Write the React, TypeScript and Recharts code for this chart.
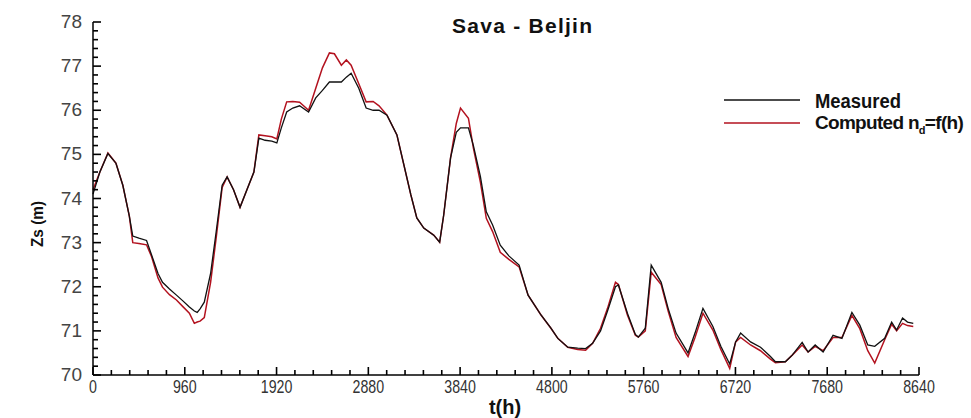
import React from 'react';
import { LineChart, Line, XAxis, YAxis } from 'recharts';

// time in hours
const hours = [
  0, 72, 156, 240, 312, 380, 416, 480, 560, 613, 680, 727, 800, 873, 940, 1008, 1060, 1090, 1120, 1164,
  1230, 1288, 1351, 1403, 1470, 1538, 1610, 1683, 1735, 1800, 1870, 1923, 1970, 2026, 2090, 2161, 2255, 2330, 2400, 2473,
  2525, 2598, 2650, 2700, 2780, 2857, 2930, 2992, 3075, 3179, 3252, 3325, 3387, 3460, 3564, 3626, 3668, 3740, 3800, 3844,
  3927, 3979, 4052, 4114, 4180, 4260, 4350, 4457, 4551, 4686, 4790, 4862, 4966, 5070, 5153, 5226, 5309, 5382, 5465, 5496,
  5590, 5673, 5704, 5777, 5839, 5943, 6016, 6099, 6224, 6297, 6380, 6484, 6567, 6660, 6722, 6774, 6878, 6982, 7086, 7138,
  7242, 7314, 7418, 7480, 7554, 7637, 7741, 7834, 7938, 8021, 8104, 8177, 8281, 8354, 8406, 8468, 8520, 8580,
];

// water level Zs (m)
const measured = [
  74.1, 74.6, 75.02, 74.8, 74.3, 73.6, 73.15, 73.1, 73.05, 72.72, 72.3, 72.1, 71.95, 71.81, 71.68, 71.54, 71.45, 71.42, 71.5, 71.65,
  72.3, 73.24, 74.3, 74.49, 74.2, 73.8, 74.2, 74.6, 75.37, 75.32, 75.3, 75.26, 75.6, 75.96, 76.05, 76.1, 75.96, 76.28, 76.45, 76.64,
  76.64, 76.64, 76.75, 76.84, 76.5, 76.05, 76.0, 76.0, 75.89, 75.44, 74.76, 74.08, 73.56, 73.33, 73.17, 73.01, 73.62, 74.92, 75.5, 75.6,
  75.6, 75.2, 74.5, 73.7, 73.4, 72.94, 72.7, 72.49, 71.81, 71.36, 71.06, 70.83, 70.63, 70.61, 70.6, 70.72, 71.0, 71.45, 72.0, 72.04,
  71.4, 70.92, 70.86, 71.06, 72.49, 72.1, 71.51, 70.95, 70.5, 70.95, 71.51, 71.1, 70.65, 70.25, 70.75, 70.95, 70.75, 70.63, 70.42, 70.3,
  70.3, 70.45, 70.74, 70.52, 70.68, 70.52, 70.9, 70.83, 71.42, 71.13, 70.68, 70.65, 70.83, 71.2, 71.02, 71.29, 71.2, 71.17,
];

const computed = [
  74.2, 74.6, 75.03, 74.8, 74.3, 73.6, 73.0, 72.98, 72.95, 72.68, 72.2, 71.99, 71.82, 71.7, 71.55, 71.4, 71.17, 71.2, 71.22, 71.3,
  72.1, 73.1, 74.25, 74.49, 74.2, 73.8, 74.2, 74.6, 75.44, 75.42, 75.4, 75.35, 75.8, 76.19, 76.2, 76.18, 76.0, 76.5, 76.96, 77.3,
  77.28, 77.02, 77.14, 77.02, 76.6, 76.19, 76.2, 76.1, 75.89, 75.44, 74.76, 74.08, 73.56, 73.33, 73.17, 73.01, 73.62, 74.92, 75.7, 76.05,
  75.82, 75.14, 74.37, 73.55, 73.25, 72.78, 72.62, 72.45, 71.81, 71.36, 71.06, 70.83, 70.63, 70.58, 70.56, 70.72, 71.06, 71.51, 72.1, 72.05,
  71.36, 70.9, 70.86, 71.0, 72.33, 72.05, 71.45, 70.85, 70.42, 70.85, 71.4, 71.02, 70.58, 70.15, 70.75, 70.85, 70.68, 70.55, 70.36, 70.28,
  70.3, 70.45, 70.68, 70.52, 70.65, 70.55, 70.85, 70.85, 71.35, 71.05, 70.55, 70.27, 70.8, 71.15, 71.0, 71.17, 71.12, 71.1,
];

const xMajorTicks = [0, 960, 1920, 2880, 3840, 4800, 5760, 6720, 7680, 8640];
const yMajorTicks = [70, 71, 72, 73, 74, 75, 76, 77, 78];
const X_MINOR_STEP = 192;
const Y_MINOR_STEP = 0.2;

const xAllTicks = Array.from({ length: 8640 / X_MINOR_STEP + 1 }, (_, i) => i * X_MINOR_STEP);
const yAllTicks = Array.from({ length: 41 }, (_, i) => +(70 + i * Y_MINOR_STEP).toFixed(1));

const data = hours.map((t, i) => ({ t, measured: measured[i], computed: computed[i] }));

const SANS = "'Liberation Sans', Arial, sans-serif";
const RED = '#b3121f';

// chart layout (shared by the chart margins and the inward tick-mark overlay)
const W = 971;
const H = 418;
const M_TOP = 22;
const M_RIGHT = 52;
const Y_AXIS_W = 93;
const X_AXIS_H = 43;
const PLOT_L = Y_AXIS_W;
const PLOT_R = W - M_RIGHT;
const PLOT_T = M_TOP;
const PLOT_B = H - X_AXIS_H;
const sx = (t: number) => PLOT_L + (t / 8640) * (PLOT_R - PLOT_L);
const sy = (v: number) => PLOT_T + ((78 - v) / 8) * (PLOT_B - PLOT_T);

const isYMajor = (v: number) => yMajorTicks.some((m) => Math.abs(m - v) < 1e-6);

const renderXTick = (props: any) => {
  const { x, y, payload } = props;
  const v = payload.value;
  if (!xMajorTicks.includes(v)) return <g key={`xt-${v}`} />;
  const label = String(v);
  return (
    <text
      key={`xt-${v}`}
      x={x}
      y={y + 18}
      textAnchor="middle"
      fontFamily={SANS}
      fontSize={19}
      fill="#333"
      textLength={label.length * 7.9}
      lengthAdjust="spacingAndGlyphs"
    >
      {label}
    </text>
  );
};

const renderYTick = (props: any) => {
  const { x, y, payload } = props;
  const v = payload.value;
  if (!isYMajor(v)) return <g key={`yt-${v}`} />;
  return (
    <text key={`yt-${v}`} x={x - 11} y={y + 6} textAnchor="end" fontFamily={SANS} fontSize={19} fill="#444">
      {Math.round(v)}
    </text>
  );
};

export default function App() {
  return (
    <div style={{ position: 'absolute', left: 0, top: 0, width: W, height: H, background: '#fff' }}>
      <LineChart width={W} height={H} data={data} margin={{ top: M_TOP, right: M_RIGHT, bottom: 0, left: 0 }}>
        <Line type="linear" dataKey="computed" stroke={RED} strokeWidth={1.5} dot={false} isAnimationActive={false} />
        <Line type="linear" dataKey="measured" stroke="#111" strokeWidth={1.3} dot={false} isAnimationActive={false} />
        <XAxis
          dataKey="t"
          type="number"
          domain={[0, 8640]}
          ticks={xAllTicks}
          interval={0}
          tick={renderXTick}
          tickLine={false}
          tickSize={0}
          tickMargin={0}
          axisLine={{ stroke: '#000', strokeWidth: 1.5 }}
          height={X_AXIS_H}
        />
        <YAxis
          type="number"
          domain={[70, 78]}
          ticks={yAllTicks}
          interval={0}
          tick={renderYTick}
          tickLine={false}
          tickSize={0}
          tickMargin={0}
          axisLine={{ stroke: '#000', strokeWidth: 1.5 }}
          width={Y_AXIS_W}
        />
      </LineChart>
      <svg width={W} height={H} style={{ position: 'absolute', left: 0, top: 0, pointerEvents: 'none' }}>
        <g stroke="#000" strokeWidth={1.6}>
          {xAllTicks.map((t) => (
            <line
              key={`xm-${t}`}
              x1={sx(t)}
              x2={sx(t)}
              y1={PLOT_B}
              y2={PLOT_B - (xMajorTicks.includes(t) ? 8 : 5)}
            />
          ))}
          {yAllTicks.map((v) => (
            <line
              key={`ym-${v}`}
              x1={PLOT_L}
              x2={PLOT_L + (isYMajor(v) ? 8 : 5)}
              y1={sy(v)}
              y2={sy(v)}
            />
          ))}
        </g>
        <text
          x={522}
          y={33}
          textAnchor="middle"
          fontFamily={SANS}
          fontWeight="bold"
          fontSize={21}
          fill="#111"
          textLength={140}
          lengthAdjust="spacing"
        >
          Sava - Beljin
        </text>
        <line x1={724} x2={800} y1={100} y2={100} stroke="#111" strokeWidth={1.4} />
        <line x1={724} x2={800} y1={123} y2={123} stroke={RED} strokeWidth={1.4} />
        <text
          x={815}
          y={108}
          fontFamily={SANS}
          fontWeight="bold"
          fontSize={20}
          fill="#111"
          textLength={86}
          lengthAdjust="spacingAndGlyphs"
        >
          Measured
        </text>
        <text x={815} y={129} fontFamily={SANS} fontWeight="bold" fontSize={19} fill="#111" letterSpacing={-0.7}>
          Computed n<tspan fontSize={11} dy={5}>d</tspan>
          <tspan dy={-5}>=f(h)</tspan>
        </text>
        <text
          x={37}
          y={224}
          transform="rotate(-90 37 224)"
          textAnchor="middle"
          dominantBaseline="central"
          fontFamily={SANS}
          fontWeight="bold"
          fontSize={17}
          fill="#111"
          textLength={46}
          lengthAdjust="spacingAndGlyphs"
        >
          Zs (m)
        </text>
        <text x={505} y={414} textAnchor="middle" fontFamily={SANS} fontWeight="bold" fontSize={20} fill="#111">
          t(h)
        </text>
      </svg>
    </div>
  );
}
